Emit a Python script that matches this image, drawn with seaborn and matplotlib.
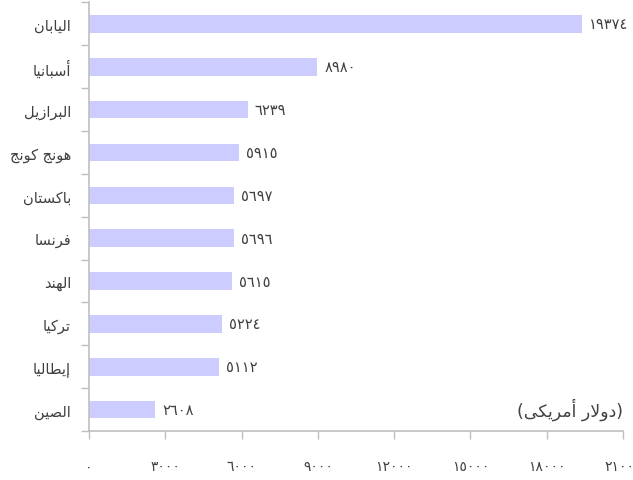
import unicodedata
import numpy as np
import pandas as pd
import matplotlib
matplotlib.use("Agg")
import matplotlib.pyplot as plt
import seaborn as sns

countries = ["اليابان", "أسبانيا", "البرازيل", "هونج كونج", "باكستان",
             "فرنسا", "الهند", "تركيا", "إيطاليا", "الصين"]
values = [19374, 8980, 6239, 5915, 5697, 5696, 5615, 5224, 5112, 2608]
x_ticks = [0, 3000, 6000, 9000, 12000, 15000, 18000, 21000]
unit_label = "(دولار أمريكى)"

RIGHT_JOIN = set("اأإآدذرزوؤة")


def is_letter(c):
    return "\u0621" <= c <= "\u064A"


def joins_next(c):
    return c is not None and is_letter(c) and c not in RIGHT_JOIN and c != "ء"


def joins_prev(c):
    return c is not None and is_letter(c) and c != "ء"


def form_of(c, form):
    name = unicodedata.name(c)
    try:
        return unicodedata.lookup(f"{name} {form} FORM")
    except KeyError:
        return c


def shape(text):
    chars = list(text)
    n = len(chars)
    out = []
    i = 0
    alefs = {"ا": "ALEF", "أ": "ALEF WITH HAMZA ABOVE",
             "إ": "ALEF WITH HAMZA BELOW", "آ": "ALEF WITH MADDA ABOVE"}
    while i < n:
        c = chars[i]
        if not is_letter(c):
            out.append(c)
            i += 1
            continue
        prev = chars[i - 1] if i > 0 else None
        cp = joins_next(prev) and joins_prev(c)
        if c == "ل" and i + 1 < n and chars[i + 1] in alefs:
            form = "FINAL" if cp else "ISOLATED"
            out.append(unicodedata.lookup(
                f"ARABIC LIGATURE LAM WITH {alefs[chars[i + 1]]} {form} FORM"))
            i += 2
            continue
        nxt = chars[i + 1] if i + 1 < n else None
        cn = joins_next(c) and joins_prev(nxt)
        if cp and cn:
            f = "MEDIAL"
        elif cp:
            f = "FINAL"
        elif cn:
            f = "INITIAL"
        else:
            f = "ISOLATED"
        out.append(form_of(c, f))
        i += 1
    vis = "".join(reversed(out))
    mirror = {"(": ")", ")": "("}
    return "".join(mirror.get(ch, ch) for ch in vis)


AR_DIGITS = str.maketrans("0123456789", "٠١٢٣٤٥٦٧٨٩")


def ar_num(v):
    return str(int(v)).translate(AR_DIGITS)


plt.rcParams["font.family"] = ["DejaVu Sans"]
df = pd.DataFrame({"country": countries, "value": values})

fig = plt.figure(figsize=(6.33, 4.81), dpi=100)
ax = fig.add_axes([89 / 633, 1 - 432 / 481, (623 - 89) / 633, (432 - 3.5) / 481])

sns.barplot(data=df, x="value", y="country", orient="h", color="#CCCCFF",
            width=0.41, saturation=1, ax=ax)

text_color = "#404040"
axis_color = "#BFBFBF"

ax.set_xlim(0, 21000)
ax.set_ylim(len(countries) - 0.5, -0.5)
ax.set_xticks(x_ticks)
ax.set_xticklabels([ar_num(t) for t in x_ticks], color=text_color, fontsize=10)
ax.set_yticks(range(len(countries)))
ax.set_yticklabels([shape(c) for c in countries], color=text_color, fontsize=10.5)
ax.set_yticks(np.arange(-0.5, len(countries), 1), minor=True)
ax.tick_params(axis="y", which="major", length=0, pad=13)
ax.tick_params(axis="y", which="minor", length=5.5, color=axis_color, width=1)
ax.tick_params(axis="x", which="major", length=6, color=axis_color, width=1, pad=14.5)
ax.set_xlabel("")
ax.set_ylabel("")

for s in ["top", "right"]:
    ax.spines[s].set_visible(False)
for s in ["left", "bottom"]:
    ax.spines[s].set_color(axis_color)
    ax.spines[s].set_linewidth(1.2)

ax.bar_label(ax.containers[0], labels=[ar_num(v) for v in values], padding=5,
             color=text_color, fontsize=10.5)

ax.text(1.0, 0.052, shape(unit_label), transform=ax.transAxes, ha="right",
        va="center", color=text_color, fontsize=12.5)

fig.savefig("out.png", dpi=100)
